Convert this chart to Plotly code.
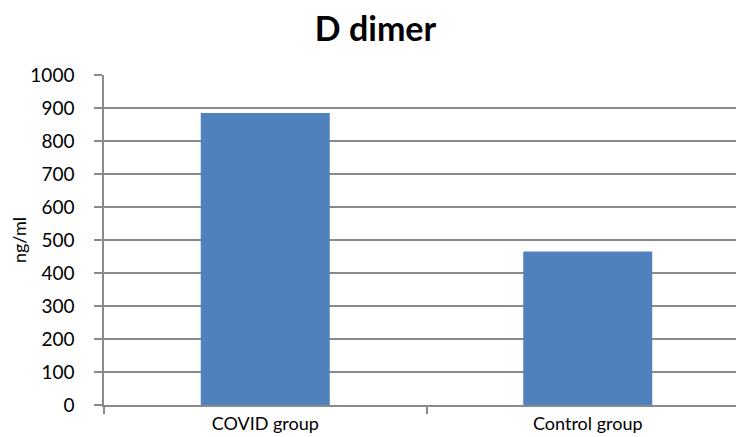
import plotly.graph_objects as go

categories = ["COVID group", "Control group"]
values = [885, 465]
y_ticks = list(range(0, 1001, 100))

GRID = "#8a8a8a"
BAR = "#4f81bd"
FONT = "Lato"

fig = go.Figure(go.Bar(
    x=categories, y=values,
    marker=dict(color=BAR, line=dict(width=0)),
    width=0.4,
))

fig.update_layout(
    width=744, height=437,
    paper_bgcolor="white", plot_bgcolor="white",
    margin=dict(t=67, b=40, l=96, r=3),
    title=dict(text="<b>D dimer</b>", x=0.494, xanchor="center", y=0.952, yanchor="middle",
               font=dict(family=FONT, size=34, color="black")),
    font=dict(family=FONT, color="black"),
    showlegend=False,
    xaxis=dict(
        showline=True, linecolor=GRID, linewidth=1.5,
        ticks="outside", tickson="boundaries", ticklen=7, tickcolor=GRID, tickwidth=1.5,
        tickfont=dict(size=18, family=FONT, color="black"),
        ticklabelstandoff=2,
        showgrid=False, automargin=False,
    ),
    yaxis=dict(
        range=[0, 1000], tickvals=y_ticks,
        showline=True, linecolor=GRID, linewidth=1.5,
        ticks="outside", ticklen=8, tickcolor=GRID, tickwidth=1.5,
        ticklabelstandoff=16,
        showgrid=True, gridcolor=GRID, gridwidth=1.5,
        zeroline=False, automargin=False,
        tickfont=dict(size=19, family=FONT, color="black"),
        title=dict(text="ng/ml", font=dict(size=18, family=FONT, color="black"), standoff=54),
    ),
)

fig.write_html("out.html")
